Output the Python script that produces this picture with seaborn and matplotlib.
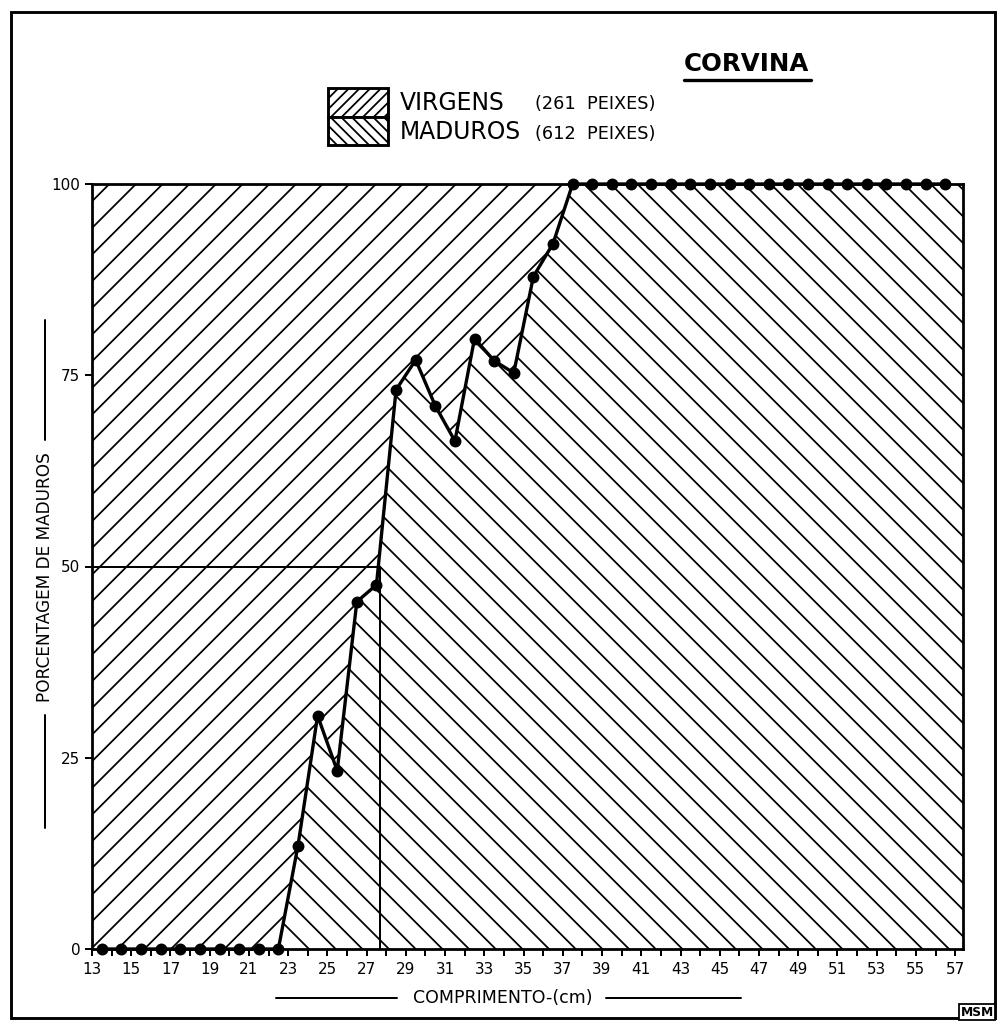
import matplotlib
matplotlib.use("Agg")
import matplotlib.pyplot as plt
import seaborn as sns
import pandas as pd
from matplotlib.patches import Patch, Rectangle
from matplotlib.lines import Line2D

# ---------------- data ----------------
lengths_cm = [13.5, 14.5, 15.5, 16.5, 17.5, 18.5, 19.5, 20.5, 21.5, 22.5,
              23.5, 24.5, 25.5, 26.5, 27.5, 28.5, 29.5, 30.5, 31.5, 32.5,
              33.5, 34.5, 35.5, 36.5, 37.5, 38.5, 39.5, 40.5, 41.5, 42.5,
              43.5, 44.5, 45.5, 46.5, 47.5, 48.5, 49.5, 50.5, 51.5, 52.5,
              53.5, 54.5, 55.5, 56.5]
pct_maduros = [0, 0, 0, 0, 0, 0, 0, 0, 0, 0,
               13.5, 30.5, 23.3, 45.4, 47.6, 73.1, 77.0, 71.0, 66.4, 79.8,
               76.9, 75.3, 87.9, 92.2, 100, 100, 100, 100, 100, 100,
               100, 100, 100, 100, 100, 100, 100, 100, 100, 100,
               100, 100, 100, 100]
x_major_ticks = [13, 15, 17, 19, 21, 23, 25, 27, 29, 31, 33, 35, 37, 39, 41,
                 43, 45, 47, 49, 51, 53, 55, 57]
x_minor_ticks = [14, 16, 18, 20, 22, 24, 26, 28, 30, 32, 34, 36, 38, 40, 42,
                 44, 46, 48, 50, 52, 54, 56]
y_ticks = [0, 25, 50, 75, 100]
series_names = ["VIRGENS", "MADUROS"]
series_counts = ["(261  PEIXES)", "(612  PEIXES)"]
l50_cm = 27.7
title_text = "CORVINA"
x_label = "COMPRIMENTO-(cm)"
y_label = "PORCENTAGEM DE MADUROS"

# ---------------- style ----------------
sns.set_theme(style="ticks")
plt.rcParams["font.family"] = ["DejaVu Sans"]
plt.rcParams["hatch.linewidth"] = 0.8
plt.rcParams["hatch.color"] = "black"

W, H, DPI = 998, 1025, 160
fig = plt.figure(figsize=(W / DPI, H / DPI), dpi=DPI)
fig.patch.set_facecolor("white")


def fx(px):
    return px / W


def fy(py):
    return 1 - py / H


ax = fig.add_axes([fx(92), fy(949), fx(963) - fx(92), fy(184) - fy(949)])
ax.set_facecolor("white")

xmin, xmax = 13, 57.4
x_fill = [xmin] + lengths_cm + [xmax]
y_fill = [pct_maduros[0]] + pct_maduros + [pct_maduros[-1]]

ax.fill_between(x_fill, y_fill, 100, facecolor="none", edgecolor="black",
                hatch="//", linewidth=0)
ax.fill_between(x_fill, 0, y_fill, facecolor="none", edgecolor="black",
                hatch="\\\\", linewidth=0)

# L50 guide lines
ax.plot([xmin, l50_cm], [50, 50], color="black", lw=0.9, zorder=3)
ax.plot([l50_cm, l50_cm], [0, 50], color="black", lw=0.9, zorder=3)

df = pd.DataFrame({"comprimento": lengths_cm, "pct": pct_maduros})
sns.lineplot(data=df, x="comprimento", y="pct", ax=ax, color="black",
             linewidth=1.5, marker="o", markersize=4.6,
             markeredgecolor="black", markerfacecolor="black",
             clip_on=False, zorder=6)

ax.set_xlim(xmin, xmax)
ax.set_ylim(0, 100)
ax.set_xticks(x_major_ticks)
ax.set_xticklabels([str(t) for t in x_major_ticks])
ax.set_xticks(x_minor_ticks, minor=True)
ax.set_yticks(y_ticks)
ax.set_yticklabels([str(t) for t in y_ticks])
ax.set_xlabel("")
ax.set_ylabel("")
ax.tick_params(axis="both", which="both", direction="out", colors="black",
               width=0.9, labelsize=6.8)
ax.tick_params(axis="x", which="both", length=3, pad=3)
ax.tick_params(axis="y", which="major", length=3, pad=2.3)
for s in ax.spines.values():
    s.set_visible(True)
    s.set_color("black")
    s.set_linewidth(1.25)

# ---------------- axis labels ----------------
fig.text(fx(503), fy(998), x_label, fontsize=7.8, ha="center", va="center",
         color="black")
fig.add_artist(Line2D([fx(276), fx(397)], [fy(998), fy(998)], color="black", lw=0.9))
fig.add_artist(Line2D([fx(606), fx(741)], [fy(998), fy(998)], color="black", lw=0.9))

fig.text(fx(45), fy(577), y_label, fontsize=7.6, rotation=90, ha="center",
         va="center", color="black")
fig.add_artist(Line2D([fx(45), fx(45)], [fy(320), fy(440)], color="black", lw=0.9))
fig.add_artist(Line2D([fx(45), fx(45)], [fy(715), fy(828)], color="black", lw=0.9))

# ---------------- title ----------------
fig.text(fx(684), fy(64), title_text, fontsize=11, ha="left", va="center",
         color="black", fontweight="bold")
fig.add_artist(Line2D([fx(684), fx(811)], [fy(80), fy(80)], color="black", lw=1.5))

# ---------------- legend ----------------
handles = [Patch(facecolor="white", edgecolor="black", hatch="/////", linewidth=1.3),
           Patch(facecolor="white", edgecolor="black", hatch="\\\\\\\\\\", linewidth=1.3)]
fig.legend(handles, series_names, loc="upper left",
           bbox_to_anchor=(fx(328), fy(88)), frameon=False, borderpad=0,
           borderaxespad=0, handlelength=2.55, handleheight=1.5,
           labelspacing=0, handletextpad=0.5, fontsize=10.6,
           labelcolor="black")
fig.text(fx(535), fy(104), series_counts[0], fontsize=8, ha="left", va="center",
         color="black")
fig.text(fx(535), fy(134), series_counts[1], fontsize=8, ha="left", va="center",
         color="black")

# ---------------- frame & mark ----------------
fig.add_artist(Rectangle((fx(11), fy(1018)), fx(995) - fx(11), fy(12) - fy(1018),
                         transform=fig.transFigure, fill=False, lw=1.3,
                         edgecolor="black"))
fig.text(fx(977), fy(1012), "MSM", fontsize=5.5, fontweight="bold",
         ha="center", va="center", color="black",
         bbox=dict(boxstyle="square,pad=0.15", fc="white", ec="black", lw=0.8))

fig.savefig("out.png", dpi=DPI)
